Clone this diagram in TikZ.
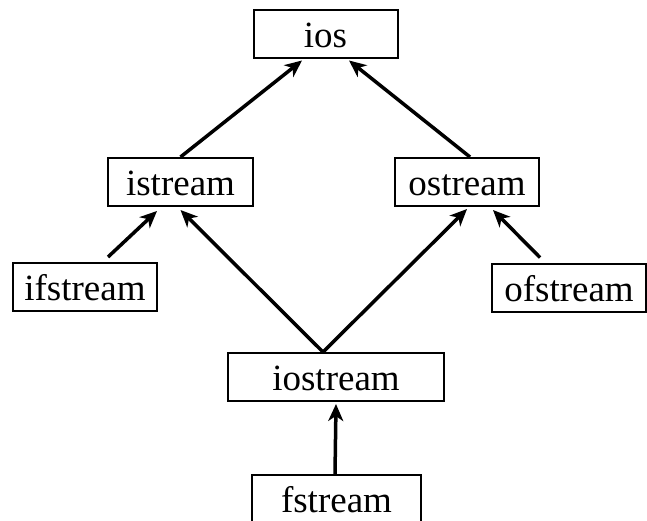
\documentclass[tikz,border=0pt]{standalone}
\usepackage{fontspec}
\setmainfont{Liberation Serif}
\usetikzlibrary{arrows.meta}
\begin{document}
\begin{tikzpicture}[x=1pt,y=-1pt,
  cls/.style={draw, line width=2pt, inner sep=0pt, text height=37.5pt, text depth=10.5pt,
    font=\fontsize{37}{40}\selectfont},
  inh/.style={line width=3.5pt, -{Stealth[length=17pt,width=15pt,inset=5pt]}}]
\useasboundingbox (0,0) rectangle (647,520);
\node[cls, minimum width=144pt] (ios) at (325.5,33.5) {ios};
\node[cls, minimum width=145pt] (istream) at (180.5,182) {istream};
\node[cls, minimum width=144pt] (ostream) at (467,182) {ostream};
\node[cls, minimum width=144pt] (ifstream) at (85,287) {ifstream};
\node[cls, minimum width=154pt] (ofstream) at (569,287.5) {ofstream};
\node[cls, minimum width=216pt] (iostream) at (336,377) {iostream};
\node[cls, minimum width=169pt] (fstream) at (336.5,499) {fstream};
\draw[inh] (istream.north) -- ([xshift=-23.5pt,yshift=-2pt]ios.south);
\draw[inh] ([xshift=3pt]ostream.north) -- ([xshift=23.5pt,yshift=-2pt]ios.south);
\draw[inh] ([xshift=23pt,yshift=5pt]ifstream.north) -- ([xshift=-23.5pt,yshift=-4pt]istream.south);
\draw[inh] ([xshift=-29pt,yshift=5pt]ofstream.north) -- ([xshift=26pt,yshift=-3pt]ostream.south);
\draw[inh] ([xshift=-13pt]iostream.north) -- ([yshift=-3pt]istream.south);
\draw[inh] ([xshift=-13pt]iostream.north) -- ([yshift=-2pt]ostream.south);
\draw[inh] ([xshift=-1.5pt]fstream.north) -- ([yshift=-2pt]iostream.south);
\end{tikzpicture}
\end{document}
